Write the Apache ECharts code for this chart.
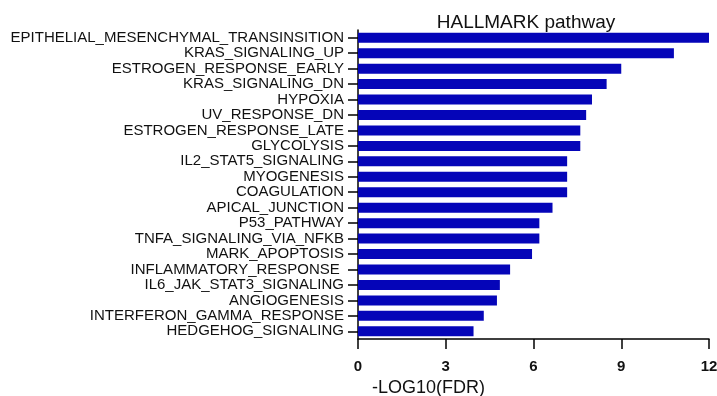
<!DOCTYPE html>
<html>
<head>
<meta charset="utf-8">
<script src="https://cdn.jsdelivr.net/npm/echarts@6/dist/echarts.min.js"></script>
<style>
html,body{margin:0;padding:0;background:#fff;}
#chart{width:717px;height:396px;}
</style>
</head>
<body>
<div id="chart"></div>
<script>
const categories = [
  "EPITHELIAL_MESENCHYMAL_TRANSINSITION",
  "KRAS_SIGNALING_UP",
  "ESTROGEN_RESPONSE_EARLY",
  "KRAS_SIGNALING_DN",
  "HYPOXIA",
  "UV_RESPONSE_DN",
  "ESTROGEN_RESPONSE_LATE",
  "GLYCOLYSIS",
  "IL2_STAT5_SIGNALING",
  "MYOGENESIS",
  "COAGULATION",
  "APICAL_JUNCTION",
  "P53_PATHWAY",
  "TNFA_SIGNALING_VIA_NFKB",
  "MARK_APOPTOSIS",
  "INFLAMMATORY_RESPONSE ",
  "IL6_JAK_STAT3_SIGNALING",
  "ANGIOGENESIS",
  "INTERFERON_GAMMA_RESPONSE",
  "HEDGEHOG_SIGNALING"
];
const values = [12.0, 10.8, 9.0, 8.5, 8.0, 7.8, 7.6, 7.6, 7.15, 7.15, 7.15, 6.65, 6.2, 6.2, 5.95, 5.2, 4.85, 4.75, 4.3, 3.95];
const xTicks = [0, 3, 6, 9, 12];
const titleText = "HALLMARK pathway";
const xName = "-LOG10(FDR)";

const FONT = "'Liberation Sans', Arial, sans-serif";
const chart = echarts.init(document.getElementById('chart'), null, {renderer: 'canvas'});
chart.setOption({
  animation: false,
  backgroundColor: '#ffffff',
  title: {
    text: titleText,
    left: 521, top: 8,
    textAlign: 'center',
    textStyle: {fontFamily: FONT, fontSize: 19, fontWeight: 'normal', color: '#111'}
  },
  grid: {left: 358, right: 8, top: 30, bottom: 57, containLabel: false, outerBoundsMode: 'none'},
  xAxis: {
    type: 'value',
    min: xTicks[0], max: xTicks[xTicks.length - 1], interval: 3,
    name: xName,
    nameLocation: 'middle',
    nameGap: 31,
    nameTextStyle: {fontFamily: FONT, fontSize: 18, color: '#111', padding: [0, 210, 0, 0]},
    axisLine: {show: true, lineStyle: {color: '#000', width: 1.5}},
    axisTick: {show: true, length: 10, lineStyle: {color: '#000', width: 1.5}},
    axisLabel: {fontFamily: FONT, fontSize: 15, fontWeight: 'bold', color: '#111', margin: 20},
    splitLine: {show: false}
  },
  yAxis: {
    type: 'category',
    data: categories,
    inverse: true,
    axisLine: {show: true, lineStyle: {color: '#000', width: 1.5}},
    axisTick: {show: true, length: 10, alignWithLabel: true, lineStyle: {color: '#000', width: 1.5}},
    axisLabel: {fontFamily: FONT, fontSize: 15, color: '#111', margin: 14, interval: 0}
  },
  series: [{
    type: 'bar',
    data: values,
    barWidth: 10,
    itemStyle: {color: '#0505b8'}
  }]
});
</script>
</body>
</html>
